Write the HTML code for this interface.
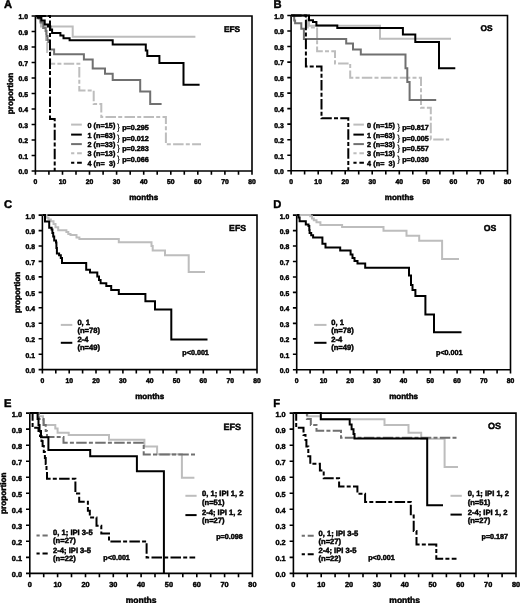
<!DOCTYPE html><html><head><meta charset="utf-8"><style>html,body{margin:0;padding:0;background:#fff;}svg{display:block;will-change:transform;}text{font-family:"Liberation Sans",sans-serif;font-weight:bold;fill:#000;stroke:#000;stroke-width:0.45px;text-rendering:geometricPrecision;}</style></head><body>
<svg width="520" height="603" viewBox="0 0 520 603">
<rect width="520" height="603" fill="#fff"/>
<text x="4.00" y="8.00" font-size="11.2">A</text>
<text x="273.60" y="8.10" font-size="11.2">B</text>
<text x="4.00" y="207.60" font-size="11.2">C</text>
<text x="273.30" y="207.90" font-size="11.2">D</text>
<text x="4.00" y="407.00" font-size="11.2">E</text>
<text x="273.30" y="407.00" font-size="11.2">F</text>
<path d="M31.6 16.0H252.0V174.8M35.4 16.0V174.8M31.6 171.0H252.0M31.6 155.5H35.4M31.6 140.0H35.4M31.6 124.5H35.4M31.6 109.0H35.4M31.6 93.5H35.4M31.6 78.0H35.4M31.6 62.5H35.4M31.6 47.0H35.4M31.6 31.5H35.4M48.9 171.0V174.8M62.5 171.0V174.8M76.0 171.0V174.8M89.5 171.0V174.8M103.1 171.0V174.8M116.6 171.0V174.8M130.2 171.0V174.8M143.7 171.0V174.8M157.2 171.0V174.8M170.8 171.0V174.8M184.3 171.0V174.8M197.8 171.0V174.8M211.4 171.0V174.8M224.9 171.0V174.8M238.5 171.0V174.8" stroke="#000" stroke-width="1.6" fill="none"/>
<text x="28.00" y="174.40" font-size="6.8" text-anchor="end">0.0</text>
<text x="28.00" y="158.90" font-size="6.8" text-anchor="end">0.1</text>
<text x="28.00" y="143.40" font-size="6.8" text-anchor="end">0.2</text>
<text x="28.00" y="127.90" font-size="6.8" text-anchor="end">0.3</text>
<text x="28.00" y="112.40" font-size="6.8" text-anchor="end">0.4</text>
<text x="28.00" y="96.90" font-size="6.8" text-anchor="end">0.5</text>
<text x="28.00" y="81.40" font-size="6.8" text-anchor="end">0.6</text>
<text x="28.00" y="65.90" font-size="6.8" text-anchor="end">0.7</text>
<text x="28.00" y="50.40" font-size="6.8" text-anchor="end">0.8</text>
<text x="28.00" y="34.90" font-size="6.8" text-anchor="end">0.9</text>
<text x="28.00" y="19.40" font-size="6.8" text-anchor="end">1.0</text>
<text x="35.40" y="184.20" font-size="6.8" text-anchor="middle">0</text>
<text x="62.47" y="184.20" font-size="6.8" text-anchor="middle">10</text>
<text x="89.55" y="184.20" font-size="6.8" text-anchor="middle">20</text>
<text x="116.62" y="184.20" font-size="6.8" text-anchor="middle">30</text>
<text x="143.70" y="184.20" font-size="6.8" text-anchor="middle">40</text>
<text x="170.78" y="184.20" font-size="6.8" text-anchor="middle">50</text>
<text x="197.85" y="184.20" font-size="6.8" text-anchor="middle">60</text>
<text x="224.93" y="184.20" font-size="6.8" text-anchor="middle">70</text>
<text x="252.00" y="184.20" font-size="6.8" text-anchor="middle">80</text>
<text x="143.70" y="200.00" font-size="8" text-anchor="middle">months</text>
<text font-size="8.2" text-anchor="middle" transform="translate(12.8 93.5) rotate(-90)">proportion</text>
<text x="240.20" y="32.00" font-size="8.4" text-anchor="end">EFS</text>
<path d="M35.4 16.0H39.3V18.5H41.0V26.4H72.7V36.8H195.4" stroke="#bdbdbd" stroke-width="2.0" fill="none"/>
<path d="M35.4 16.0H40.5V21.0H43.0V27.9H46.0V40.0H47.2V52.0H50.2V63.7H79.3V90.4H93.7V104.0H101.3V116.9H165.9V144.3H201.0" stroke="#bdbdbd" stroke-width="2.0" fill="none" stroke-dasharray="10.5 2.2 4 2.3"/>
<path d="M35.4 16.0H38.5V18.5H40.5V22.5H43.3V28.0H45.6V31.0H46.5V36.0H47.5V40.0H48.4V42.0H50.0V49.4H54.1V54.3H83.9V59.4H92.7V68.6H105.0V73.8H112.7V80.0H140.2V91.5H150.2V104.0H161.6" stroke="#707070" stroke-width="2.0" fill="none"/>
<path d="M35.4 16.0H37.5V17.7H41.4V20.5H44.7V24.5H48.0V26.6H50.3V29.5H52.1V33.1H60.4V35.5H63.5V38.3H69.6V40.3H112.7V44.4H145.8V50.4H147.3V56.0H159.4V63.1H183.5V84.8H199.6" stroke="#000" stroke-width="2.0" fill="none"/>
<path d="M35.4 16.0H50.0V119.0H54.7V171.0" stroke="#000" stroke-width="2.0" fill="none" stroke-dasharray="10.5 2.2 4 2.3"/>
<path d="M71.1 124.6H81.8" stroke="#bdbdbd" stroke-width="2.0" fill="none"/>
<text x="87.40" y="127.60" font-size="7.2" letter-spacing="0.08">0 (n=15)</text>
<path d="M71.1 134.6H81.8" stroke="#000" stroke-width="2.0" fill="none"/>
<text x="87.40" y="137.60" font-size="7.2" letter-spacing="0.08">1 (n=63)</text>
<path d="M71.1 144.1H81.8" stroke="#707070" stroke-width="2.0" fill="none"/>
<text x="87.40" y="147.10" font-size="7.2" letter-spacing="0.08">2 (n=33)</text>
<path d="M71.1 153.2H81.8" stroke="#bdbdbd" stroke-width="2.0" fill="none" stroke-dasharray="3.2 2.8 6"/>
<text x="87.40" y="156.20" font-size="7.2" letter-spacing="0.08">3 (n=13)</text>
<path d="M71.1 162.8H81.8" stroke="#000" stroke-width="2.0" fill="none" stroke-dasharray="3.2 2.8 6"/>
<text x="87.40" y="165.80" font-size="7.2" letter-spacing="0.08">4 (n=&#160;&#160;3)</text>
<text x="117.1" y="130.2" font-size="8.8" style="font-weight:normal;stroke-width:0.15px">}</text>
<text x="122.20" y="130.40" font-size="7.2">p=0.295</text>
<text x="117.1" y="141.0" font-size="8.8" style="font-weight:normal;stroke-width:0.15px">}</text>
<text x="122.20" y="141.20" font-size="7.2">p=0.012</text>
<text x="117.1" y="151.0" font-size="8.8" style="font-weight:normal;stroke-width:0.15px">}</text>
<text x="122.20" y="151.20" font-size="7.2">p=0.283</text>
<text x="117.1" y="161.8" font-size="8.8" style="font-weight:normal;stroke-width:0.15px">}</text>
<text x="122.20" y="162.00" font-size="7.2">p=0.066</text>
<path d="M287.3 15.5H507.5V174.5M291.1 15.5V174.5M287.3 170.7H507.5M287.3 155.2H291.1M287.3 139.7H291.1M287.3 124.1H291.1M287.3 108.6H291.1M287.3 93.1H291.1M287.3 77.6H291.1M287.3 62.1H291.1M287.3 46.5H291.1M287.3 31.0H291.1M304.6 170.7V174.5M318.2 170.7V174.5M331.7 170.7V174.5M345.2 170.7V174.5M358.7 170.7V174.5M372.2 170.7V174.5M385.8 170.7V174.5M399.3 170.7V174.5M412.8 170.7V174.5M426.4 170.7V174.5M439.9 170.7V174.5M453.4 170.7V174.5M466.9 170.7V174.5M480.4 170.7V174.5M494.0 170.7V174.5" stroke="#000" stroke-width="1.6" fill="none"/>
<text x="283.70" y="174.10" font-size="6.8" text-anchor="end">0.0</text>
<text x="283.70" y="158.58" font-size="6.8" text-anchor="end">0.1</text>
<text x="283.70" y="143.06" font-size="6.8" text-anchor="end">0.2</text>
<text x="283.70" y="127.54" font-size="6.8" text-anchor="end">0.3</text>
<text x="283.70" y="112.02" font-size="6.8" text-anchor="end">0.4</text>
<text x="283.70" y="96.50" font-size="6.8" text-anchor="end">0.5</text>
<text x="283.70" y="80.98" font-size="6.8" text-anchor="end">0.6</text>
<text x="283.70" y="65.46" font-size="6.8" text-anchor="end">0.7</text>
<text x="283.70" y="49.94" font-size="6.8" text-anchor="end">0.8</text>
<text x="283.70" y="34.42" font-size="6.8" text-anchor="end">0.9</text>
<text x="283.70" y="18.90" font-size="6.8" text-anchor="end">1.0</text>
<text x="291.10" y="183.90" font-size="6.8" text-anchor="middle">0</text>
<text x="318.15" y="183.90" font-size="6.8" text-anchor="middle">10</text>
<text x="345.20" y="183.90" font-size="6.8" text-anchor="middle">20</text>
<text x="372.25" y="183.90" font-size="6.8" text-anchor="middle">30</text>
<text x="399.30" y="183.90" font-size="6.8" text-anchor="middle">40</text>
<text x="426.35" y="183.90" font-size="6.8" text-anchor="middle">50</text>
<text x="453.40" y="183.90" font-size="6.8" text-anchor="middle">60</text>
<text x="480.45" y="183.90" font-size="6.8" text-anchor="middle">70</text>
<text x="507.50" y="183.90" font-size="6.8" text-anchor="middle">80</text>
<text x="399.30" y="199.70" font-size="8" text-anchor="middle">months</text>
<text x="492.50" y="31.20" font-size="8.4" text-anchor="end">OS</text>
<path d="M291.1 15.5H309.0V25.8H380.0V38.8H451.0" stroke="#bdbdbd" stroke-width="2.0" fill="none"/>
<path d="M291.1 15.5H307.0V27.4H317.1V51.3H335.0V63.5H350.2V77.8H421.0V107.7H430.8V139.4H449.2" stroke="#bdbdbd" stroke-width="2.0" fill="none" stroke-dasharray="10.5 2.2 4 2.3"/>
<path d="M291.1 15.5H294.2V20.5H295.1V23.3H301.3V28.8H303.9V38.9H346.2V43.5H353.0V49.4H360.8V54.4H405.5V68.2H407.3V82.0H409.6V99.9H436.2" stroke="#707070" stroke-width="2.0" fill="none"/>
<path d="M291.1 15.5H309.0V20.3H313.0V22.0H316.4V25.4H337.3V28.1H402.9V34.4H415.3V41.9H439.0V68.2H455.3" stroke="#000" stroke-width="2.0" fill="none"/>
<path d="M291.1 15.5H305.9V66.6H321.5V118.3H348.3V170.7" stroke="#000" stroke-width="2.0" fill="none" stroke-dasharray="10.5 2.2 4 2.3"/>
<path d="M353.4 124.6H363.9" stroke="#bdbdbd" stroke-width="2.0" fill="none"/>
<text x="367.10" y="127.60" font-size="7.2" letter-spacing="0.08">0 (n=15)</text>
<path d="M353.4 134.6H363.9" stroke="#000" stroke-width="2.0" fill="none"/>
<text x="367.10" y="137.60" font-size="7.2" letter-spacing="0.08">1 (n=63)</text>
<path d="M353.4 144.1H363.9" stroke="#707070" stroke-width="2.0" fill="none"/>
<text x="367.10" y="147.10" font-size="7.2" letter-spacing="0.08">2 (n=33)</text>
<path d="M353.4 153.2H363.9" stroke="#bdbdbd" stroke-width="2.0" fill="none" stroke-dasharray="3.2 2.8 6"/>
<text x="367.10" y="156.20" font-size="7.2" letter-spacing="0.08">3 (n=13)</text>
<path d="M353.4 162.8H363.9" stroke="#000" stroke-width="2.0" fill="none" stroke-dasharray="3.2 2.8 6"/>
<text x="367.10" y="165.80" font-size="7.2" letter-spacing="0.08">4 (n=&#160;&#160;3)</text>
<text x="397.3" y="130.2" font-size="8.8" style="font-weight:normal;stroke-width:0.15px">}</text>
<text x="402.20" y="130.40" font-size="7.2">p=0.817</text>
<text x="397.3" y="141.0" font-size="8.8" style="font-weight:normal;stroke-width:0.15px">}</text>
<text x="402.20" y="141.20" font-size="7.2">p=0.005</text>
<text x="397.3" y="151.0" font-size="8.8" style="font-weight:normal;stroke-width:0.15px">}</text>
<text x="402.20" y="151.20" font-size="7.2">p=0.557</text>
<text x="397.3" y="161.8" font-size="8.8" style="font-weight:normal;stroke-width:0.15px">}</text>
<text x="402.20" y="162.00" font-size="7.2">p=0.030</text>
<path d="M38.6 215.1H257.0V373.4M42.4 215.1V373.4M38.6 369.6H257.0M38.6 354.2H42.4M38.6 338.7H42.4M38.6 323.2H42.4M38.6 307.8H42.4M38.6 292.4H42.4M38.6 276.9H42.4M38.6 261.4H42.4M38.6 246.0H42.4M38.6 230.6H42.4M55.8 369.6V373.4M69.2 369.6V373.4M82.6 369.6V373.4M96.0 369.6V373.4M109.5 369.6V373.4M122.9 369.6V373.4M136.3 369.6V373.4M149.7 369.6V373.4M163.1 369.6V373.4M176.5 369.6V373.4M189.9 369.6V373.4M203.3 369.6V373.4M216.8 369.6V373.4M230.2 369.6V373.4M243.6 369.6V373.4" stroke="#000" stroke-width="1.6" fill="none"/>
<text x="35.00" y="373.00" font-size="6.8" text-anchor="end">0.0</text>
<text x="35.00" y="357.55" font-size="6.8" text-anchor="end">0.1</text>
<text x="35.00" y="342.10" font-size="6.8" text-anchor="end">0.2</text>
<text x="35.00" y="326.65" font-size="6.8" text-anchor="end">0.3</text>
<text x="35.00" y="311.20" font-size="6.8" text-anchor="end">0.4</text>
<text x="35.00" y="295.75" font-size="6.8" text-anchor="end">0.5</text>
<text x="35.00" y="280.30" font-size="6.8" text-anchor="end">0.6</text>
<text x="35.00" y="264.85" font-size="6.8" text-anchor="end">0.7</text>
<text x="35.00" y="249.40" font-size="6.8" text-anchor="end">0.8</text>
<text x="35.00" y="233.95" font-size="6.8" text-anchor="end">0.9</text>
<text x="35.00" y="218.50" font-size="6.8" text-anchor="end">1.0</text>
<text x="42.40" y="382.80" font-size="6.8" text-anchor="middle">0</text>
<text x="69.22" y="382.80" font-size="6.8" text-anchor="middle">10</text>
<text x="96.05" y="382.80" font-size="6.8" text-anchor="middle">20</text>
<text x="122.88" y="382.80" font-size="6.8" text-anchor="middle">30</text>
<text x="149.70" y="382.80" font-size="6.8" text-anchor="middle">40</text>
<text x="176.53" y="382.80" font-size="6.8" text-anchor="middle">50</text>
<text x="203.35" y="382.80" font-size="6.8" text-anchor="middle">60</text>
<text x="230.18" y="382.80" font-size="6.8" text-anchor="middle">70</text>
<text x="257.00" y="382.80" font-size="6.8" text-anchor="middle">80</text>
<text x="149.70" y="398.60" font-size="8" text-anchor="middle">months</text>
<text font-size="8.2" text-anchor="middle" transform="translate(19.8 292.4) rotate(-90)">proportion</text>
<text x="246.00" y="230.80" font-size="8.7" text-anchor="end">EFS</text>
<path d="M42.4 215.1H46.5V217.8H48.5V219.5H50.8V221.3H53.5V224.0H55.5V227.3H58.2V230.2H66.4V232.0H68.3V233.9H70.5V235.0H76.5V237.5H79.4V239.0H118.8V242.2H151.5V246.0H152.7V250.5H165.0V255.3H188.7V272.0H205.0" stroke="#bdbdbd" stroke-width="2.0" fill="none"/>
<path d="M42.4 215.1H45.0V221.4H49.2V227.8H51.6V229.5H52.4V233.0H53.2V236.5H54.2V240.5H56.0V242.5H56.4V248.0H56.9V253.5H59.1V255.2H60.8V258.0H62.0V263.0H86.2V269.7H90.0V272.6H97.3V276.4H99.0V280.0H100.6V283.2H106.3V286.0H111.2V289.9H118.8V294.0H145.4V301.2H155.0V309.6H171.3V339.6H207.5" stroke="#000" stroke-width="2.0" fill="none"/>
<path d="M60.8 324.9H72.3" stroke="#bdbdbd" stroke-width="2.0" fill="none"/>
<path d="M60.8 342.8H72.3" stroke="#000" stroke-width="2.0" fill="none"/>
<text x="77.40" y="324.50" font-size="7.6">0, 1</text>
<text x="77.40" y="332.80" font-size="7.6">(n=78)</text>
<text x="77.40" y="342.40" font-size="7.6">2-4</text>
<text x="77.40" y="350.00" font-size="7.6">(n=49)</text>
<text x="182.30" y="354.60" font-size="7.2">p&lt;0.001</text>
<path d="M292.9 215.1H510.5V373.6M296.7 215.1V373.6M292.9 369.8H510.5M292.9 354.3H296.7M292.9 338.9H296.7M292.9 323.4H296.7M292.9 307.9H296.7M292.9 292.4H296.7M292.9 277.0H296.7M292.9 261.5H296.7M292.9 246.0H296.7M292.9 230.6H296.7M310.1 369.8V373.6M323.4 369.8V373.6M336.8 369.8V373.6M350.1 369.8V373.6M363.5 369.8V373.6M376.9 369.8V373.6M390.2 369.8V373.6M403.6 369.8V373.6M417.0 369.8V373.6M430.3 369.8V373.6M443.7 369.8V373.6M457.1 369.8V373.6M470.4 369.8V373.6M483.8 369.8V373.6M497.1 369.8V373.6" stroke="#000" stroke-width="1.6" fill="none"/>
<text x="289.30" y="373.20" font-size="6.8" text-anchor="end">0.0</text>
<text x="289.30" y="357.73" font-size="6.8" text-anchor="end">0.1</text>
<text x="289.30" y="342.26" font-size="6.8" text-anchor="end">0.2</text>
<text x="289.30" y="326.79" font-size="6.8" text-anchor="end">0.3</text>
<text x="289.30" y="311.32" font-size="6.8" text-anchor="end">0.4</text>
<text x="289.30" y="295.85" font-size="6.8" text-anchor="end">0.5</text>
<text x="289.30" y="280.38" font-size="6.8" text-anchor="end">0.6</text>
<text x="289.30" y="264.91" font-size="6.8" text-anchor="end">0.7</text>
<text x="289.30" y="249.44" font-size="6.8" text-anchor="end">0.8</text>
<text x="289.30" y="233.97" font-size="6.8" text-anchor="end">0.9</text>
<text x="289.30" y="218.50" font-size="6.8" text-anchor="end">1.0</text>
<text x="296.70" y="383.00" font-size="6.8" text-anchor="middle">0</text>
<text x="323.43" y="383.00" font-size="6.8" text-anchor="middle">10</text>
<text x="350.15" y="383.00" font-size="6.8" text-anchor="middle">20</text>
<text x="376.88" y="383.00" font-size="6.8" text-anchor="middle">30</text>
<text x="403.60" y="383.00" font-size="6.8" text-anchor="middle">40</text>
<text x="430.32" y="383.00" font-size="6.8" text-anchor="middle">50</text>
<text x="457.05" y="383.00" font-size="6.8" text-anchor="middle">60</text>
<text x="483.77" y="383.00" font-size="6.8" text-anchor="middle">70</text>
<text x="510.50" y="383.00" font-size="6.8" text-anchor="middle">80</text>
<text x="403.60" y="398.80" font-size="8" text-anchor="middle">months</text>
<text x="496.20" y="230.80" font-size="8.7" text-anchor="end">OS</text>
<path d="M296.7 215.1H310.2V216.3H312.0V218.5H313.8V220.3H316.5V222.3H320.4V224.9H342.1V227.0H383.5V230.8H406.5V235.7H419.2V240.8H442.1V259.1H459.0" stroke="#bdbdbd" stroke-width="2.0" fill="none"/>
<path d="M296.7 215.1H298.5V217.5H299.6V221.3H305.8V224.5H308.5V226.0H309.3V230.0H309.6V233.0H311.2V235.3H313.1V237.6H322.4V243.8H325.5V247.6H340.2V250.6H350.6V254.5H352.5V258.0H354.5V261.0H357.5V263.6H365.2V267.8H409.0V275.5H411.0V285.1H412.5V290.0H415.4V296.0H425.4V314.6H434.0V332.3H461.5" stroke="#000" stroke-width="2.0" fill="none"/>
<path d="M314.2 324.9H326.5" stroke="#bdbdbd" stroke-width="2.0" fill="none"/>
<path d="M314.2 342.8H326.5" stroke="#000" stroke-width="2.0" fill="none"/>
<text x="331.20" y="324.50" font-size="7.6">0, 1</text>
<text x="331.20" y="332.80" font-size="7.6">(n=78)</text>
<text x="331.20" y="342.40" font-size="7.6">2-4</text>
<text x="331.20" y="350.00" font-size="7.6">(n=49)</text>
<text x="436.00" y="355.00" font-size="7.2">p&lt;0.001</text>
<path d="M26.0 413.1H252.4V577.2M29.8 413.1V577.2M26.0 573.4H252.4M26.0 557.4H29.8M26.0 541.3H29.8M26.0 525.3H29.8M26.0 509.3H29.8M26.0 493.2H29.8M26.0 477.2H29.8M26.0 461.2H29.8M26.0 445.2H29.8M26.0 429.1H29.8M43.7 573.4V577.2M57.6 573.4V577.2M71.5 573.4V577.2M85.5 573.4V577.2M99.4 573.4V577.2M113.3 573.4V577.2M127.2 573.4V577.2M141.1 573.4V577.2M155.0 573.4V577.2M168.9 573.4V577.2M182.8 573.4V577.2M196.8 573.4V577.2M210.7 573.4V577.2M224.6 573.4V577.2M238.5 573.4V577.2" stroke="#000" stroke-width="1.6" fill="none"/>
<text x="22.00" y="576.80" font-size="7.3" text-anchor="end">0.0</text>
<text x="22.00" y="560.77" font-size="7.3" text-anchor="end">0.1</text>
<text x="22.00" y="544.74" font-size="7.3" text-anchor="end">0.2</text>
<text x="22.00" y="528.71" font-size="7.3" text-anchor="end">0.3</text>
<text x="22.00" y="512.68" font-size="7.3" text-anchor="end">0.4</text>
<text x="22.00" y="496.65" font-size="7.3" text-anchor="end">0.5</text>
<text x="22.00" y="480.62" font-size="7.3" text-anchor="end">0.6</text>
<text x="22.00" y="464.59" font-size="7.3" text-anchor="end">0.7</text>
<text x="22.00" y="448.56" font-size="7.3" text-anchor="end">0.8</text>
<text x="22.00" y="432.53" font-size="7.3" text-anchor="end">0.9</text>
<text x="22.00" y="416.50" font-size="7.3" text-anchor="end">1.0</text>
<text x="29.80" y="586.60" font-size="7.3" text-anchor="middle">0</text>
<text x="57.62" y="586.60" font-size="7.3" text-anchor="middle">10</text>
<text x="85.45" y="586.60" font-size="7.3" text-anchor="middle">20</text>
<text x="113.27" y="586.60" font-size="7.3" text-anchor="middle">30</text>
<text x="141.10" y="586.60" font-size="7.3" text-anchor="middle">40</text>
<text x="168.93" y="586.60" font-size="7.3" text-anchor="middle">50</text>
<text x="196.75" y="586.60" font-size="7.3" text-anchor="middle">60</text>
<text x="224.58" y="586.60" font-size="7.3" text-anchor="middle">70</text>
<text x="252.40" y="586.60" font-size="7.3" text-anchor="middle">80</text>
<text x="141.10" y="603.30" font-size="8.5" text-anchor="middle">months</text>
<text font-size="8.2" text-anchor="middle" transform="translate(6.4 493.2) rotate(-90)">proportion</text>
<text x="241.00" y="430.00" font-size="9.0" text-anchor="end">EFS</text>
<path d="M29.8 413.1H38.5V416.3H43.0V419.5H44.0V425.0H55.3V428.5H57.6V432.7H68.7V435.0H109.0V439.8H144.4V446.5H157.1V454.2H181.9V477.8H194.4" stroke="#bdbdbd" stroke-width="2.0" fill="none"/>
<path d="M29.8 413.1H39.0V419.0H43.5V425.0H45.7V430.9H47.0V436.9H63.5V442.7H143.7V454.6H195.7" stroke="#707070" stroke-width="2.0" fill="none" stroke-dasharray="10.5 2.2 4 2.3"/>
<path d="M29.8 413.1H37.6V419.0H38.5V425.0H39.5V431.0H41.0V437.3H48.4V450.0H90.2V456.2H136.9V471.2H163.9V573.4" stroke="#000" stroke-width="2.0" fill="none"/>
<path d="M29.8 413.1H32.6V427.7H38.5V431.0H40.0V436.0H41.5V441.0H42.6V446.0H43.8V452.0H44.9V458.0H45.7V464.0H46.5V471.5H47.0V478.8H75.4V493.6H79.2V501.7H87.9V510.8H89.8V517.5H96.5V525.8H101.3V533.5H109.0V541.5H146.6V557.4H195.2" stroke="#000" stroke-width="2.0" fill="none" stroke-dasharray="10.5 2.2 4 2.3"/>
<path d="M185.4 495.8H196.6" stroke="#bdbdbd" stroke-width="2.0" fill="none"/>
<path d="M185.4 515.1H196.6" stroke="#000" stroke-width="2.0" fill="none"/>
<text x="202.00" y="496.40" font-size="7.6">0, 1; IPI 1, 2</text>
<text x="202.00" y="504.60" font-size="7.6">(n=51)</text>
<text x="202.00" y="514.50" font-size="7.6">2-4; IPI 1, 2</text>
<text x="202.00" y="522.70" font-size="7.6">(n=27)</text>
<text x="216.20" y="538.50" font-size="7.2">p=0.098</text>
<path d="M36.5 535.4H47.7" stroke="#707070" stroke-width="2.0" fill="none" stroke-dasharray="3.2 2.8 6"/>
<path d="M36.5 553.5H47.7" stroke="#000" stroke-width="2.0" fill="none" stroke-dasharray="3.2 2.8 6"/>
<text x="53.10" y="535.30" font-size="7.6">0, 1; IPI 3-5</text>
<text x="53.10" y="543.30" font-size="7.6">(n=27)</text>
<text x="53.10" y="553.00" font-size="7.6">2-4; IPI 3-5</text>
<text x="53.10" y="561.00" font-size="7.6">(n=22)</text>
<text x="103.30" y="560.00" font-size="7.2">p&lt;0.001</text>
<path d="M289.6 413.1H516.0V577.2M293.4 413.1V577.2M289.6 573.4H516.0M289.6 557.4H293.4M289.6 541.3H293.4M289.6 525.3H293.4M289.6 509.3H293.4M289.6 493.2H293.4M289.6 477.2H293.4M289.6 461.2H293.4M289.6 445.2H293.4M289.6 429.1H293.4M307.3 573.4V577.2M321.2 573.4V577.2M335.1 573.4V577.2M349.0 573.4V577.2M363.0 573.4V577.2M376.9 573.4V577.2M390.8 573.4V577.2M404.7 573.4V577.2M418.6 573.4V577.2M432.5 573.4V577.2M446.4 573.4V577.2M460.4 573.4V577.2M474.3 573.4V577.2M488.2 573.4V577.2M502.1 573.4V577.2" stroke="#000" stroke-width="1.6" fill="none"/>
<text x="285.60" y="576.80" font-size="7.3" text-anchor="end">0.0</text>
<text x="285.60" y="560.77" font-size="7.3" text-anchor="end">0.1</text>
<text x="285.60" y="544.74" font-size="7.3" text-anchor="end">0.2</text>
<text x="285.60" y="528.71" font-size="7.3" text-anchor="end">0.3</text>
<text x="285.60" y="512.68" font-size="7.3" text-anchor="end">0.4</text>
<text x="285.60" y="496.65" font-size="7.3" text-anchor="end">0.5</text>
<text x="285.60" y="480.62" font-size="7.3" text-anchor="end">0.6</text>
<text x="285.60" y="464.59" font-size="7.3" text-anchor="end">0.7</text>
<text x="285.60" y="448.56" font-size="7.3" text-anchor="end">0.8</text>
<text x="285.60" y="432.53" font-size="7.3" text-anchor="end">0.9</text>
<text x="285.60" y="416.50" font-size="7.3" text-anchor="end">1.0</text>
<text x="293.40" y="586.60" font-size="7.3" text-anchor="middle">0</text>
<text x="321.22" y="586.60" font-size="7.3" text-anchor="middle">10</text>
<text x="349.05" y="586.60" font-size="7.3" text-anchor="middle">20</text>
<text x="376.88" y="586.60" font-size="7.3" text-anchor="middle">30</text>
<text x="404.70" y="586.60" font-size="7.3" text-anchor="middle">40</text>
<text x="432.52" y="586.60" font-size="7.3" text-anchor="middle">50</text>
<text x="460.35" y="586.60" font-size="7.3" text-anchor="middle">60</text>
<text x="488.18" y="586.60" font-size="7.3" text-anchor="middle">70</text>
<text x="516.00" y="586.60" font-size="7.3" text-anchor="middle">80</text>
<text x="404.70" y="603.30" font-size="8.5" text-anchor="middle">months</text>
<text x="501.00" y="429.30" font-size="9.0" text-anchor="end">OS</text>
<path d="M293.4 413.1H307.4V416.2H320.8V419.3H384.5V425.0H408.5V432.7H421.2V438.8H444.6V467.1H458.0" stroke="#bdbdbd" stroke-width="2.0" fill="none"/>
<path d="M293.4 413.1H306.9V419.0H310.8V425.0H316.5V430.8H341.0V437.7H458.0" stroke="#707070" stroke-width="2.0" fill="none" stroke-dasharray="10.5 2.2 4 2.3"/>
<path d="M293.4 413.1H320.8V419.2H349.7V424.4H351.6V429.2H353.5V434.0H354.5V438.5H427.2V505.2H443.0" stroke="#000" stroke-width="2.0" fill="none"/>
<path d="M293.4 413.1H296.2V427.7H303.5V435.0H305.5V440.0H306.4V446.5H308.3V456.2H310.3V463.8H319.9V470.6H323.7V478.3H339.1V486.5H357.4V493.7H365.1V501.9H410.8V515.6H413.7V531.0H416.5V544.4H436.3V558.8H456.5" stroke="#000" stroke-width="2.0" fill="none" stroke-dasharray="10.5 2.2 4 2.3"/>
<path d="M450.5 495.8H461.8" stroke="#bdbdbd" stroke-width="2.0" fill="none"/>
<path d="M450.5 514.6H461.8" stroke="#000" stroke-width="2.0" fill="none"/>
<text x="467.70" y="496.40" font-size="7.6">0, 1; IPI 1, 2</text>
<text x="467.70" y="504.60" font-size="7.6">(n=51)</text>
<text x="467.70" y="514.50" font-size="7.6">2-4; IPI 1, 2</text>
<text x="467.70" y="522.70" font-size="7.6">(n=27)</text>
<text x="481.50" y="538.50" font-size="7.2">p=0.187</text>
<path d="M301.7 535.8H313.9" stroke="#707070" stroke-width="2.0" fill="none" stroke-dasharray="3.2 2.8 6"/>
<path d="M301.7 554.2H313.9" stroke="#000" stroke-width="2.0" fill="none" stroke-dasharray="3.2 2.8 6"/>
<text x="318.50" y="535.50" font-size="7.6">0, 1; IPI 3-5</text>
<text x="318.50" y="543.50" font-size="7.6">(n=27)</text>
<text x="318.50" y="553.20" font-size="7.6">2-4; IPI 3-5</text>
<text x="318.50" y="561.00" font-size="7.6">(n=22)</text>
<text x="368.20" y="559.50" font-size="7.2">p&lt;0.001</text>
</svg></body></html>
